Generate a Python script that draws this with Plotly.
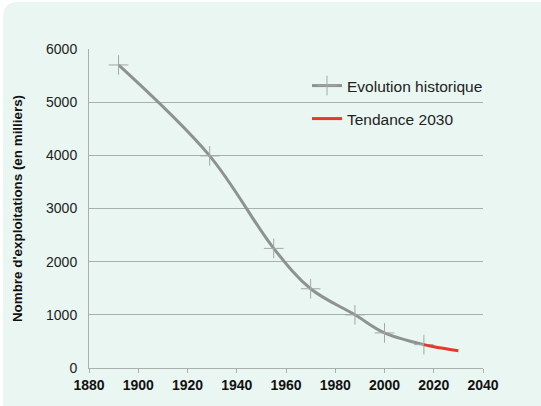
import plotly.graph_objects as go

years_hist = [1892, 1929, 1955, 1970, 1988, 2000, 2016]
farms_hist = [5700, 3990, 2250, 1490, 1000, 660, 440]
years_trend = [2016, 2020, 2030]
farms_trend = [440, 400, 325]
x_ticks = [1880, 1900, 1920, 1940, 1960, 1980, 2000, 2020, 2040]
y_ticks = [0, 1000, 2000, 3000, 4000, 5000, 6000]

W, H = 541, 406
L, R, T, B = 89, 58, 49, 38
PW, PH = W - L - R, H - T - B

def px(x):
    return (x - L) / PW

def py(y):
    return (H - B - y) / PH

MINT = "#e9f6f1"
GRID = "#a9b0ad"

fig = go.Figure()
fig.add_trace(go.Scatter(
    x=years_hist, y=farms_hist, mode="lines+markers", name="Evolution historique",
    line=dict(color="#8e9290", width=3, shape="spline"),
    marker=dict(symbol="cross-thin", size=14, line=dict(color="#a3a8a5", width=1)),
    legend="legend",
))
fig.add_trace(go.Scatter(
    x=years_trend, y=farms_trend, mode="lines", name="Tendance 2030",
    line=dict(color="#e8382b", width=3, shape="spline"),
    legend="legend2",
))

# rounded mint panel
r = 15
path = (f"M {px(3)} {py(406)} L {px(3)} {py(2 + r)} "
        f"Q {px(3)} {py(2)} {px(3 + r)} {py(2)} "
        f"L {px(541)} {py(2)} L {px(541)} {py(406)} Z")

fig.update_layout(
    width=W, height=H,
    margin=dict(l=L, r=R, t=T, b=B),
    paper_bgcolor="white",
    plot_bgcolor="rgba(0,0,0,0)",
    font=dict(family="Liberation Sans, Arial, sans-serif", color="#222"),
    shapes=[dict(type="path", path=path, xref="paper", yref="paper",
                 fillcolor=MINT, line=dict(width=0), layer="below")],
    showlegend=True,
    legend=dict(x=px(307), y=py(86), xanchor="left", yanchor="middle",
                bgcolor="rgba(0,0,0,0)", font=dict(size=15.5, color="#222"),
                itemwidth=30),
    legend2=dict(x=px(307), y=py(119), xanchor="left", yanchor="middle",
                 bgcolor="rgba(0,0,0,0)", font=dict(size=15.5, color="#222"),
                 itemwidth=30),
    xaxis=dict(range=[1880, 2040], tickvals=x_ticks, showgrid=False,
               showline=True, linecolor=GRID, linewidth=1,
               ticks="outside", ticklen=4, tickcolor=GRID,
               tickfont=dict(size=14, color="#111", family="Liberation Sans, Arial, sans-serif", weight="bold"),
               zeroline=False),
    yaxis=dict(range=[0, 6000], tickvals=y_ticks, showgrid=True, gridcolor=GRID,
               gridwidth=1, showline=True, linecolor=GRID, linewidth=1,
               ticks="", ticklabelstandoff=8,
               tickfont=dict(size=14, color="#222"),
               zeroline=False,
               title=dict(text="Nombre d'exploitations (en milliers)",
                          font=dict(size=13.4, color="#111", weight="bold"), standoff=20)),
)

fig.write_html("out.html", post_script="document.body.style.margin='0';",
               config={"displayModeBar": False})
